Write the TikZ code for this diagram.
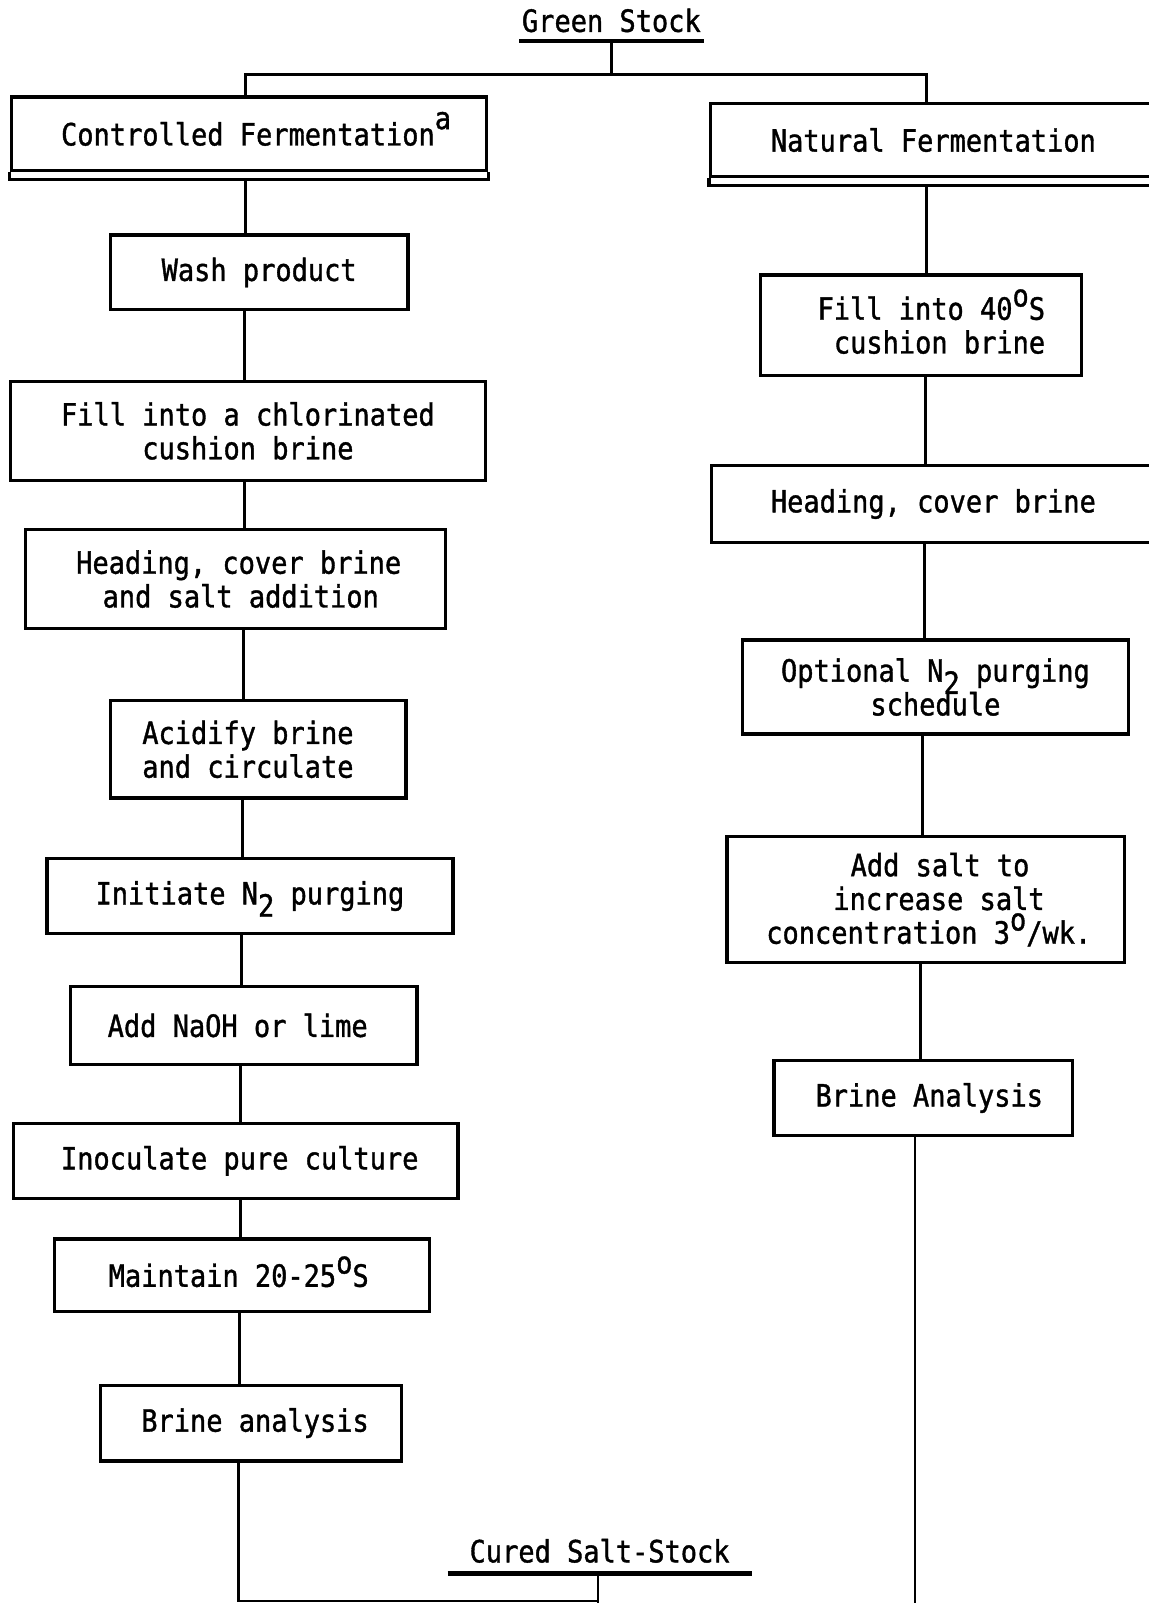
\documentclass[tikz,border=0pt]{standalone}
\usepackage{fontspec}
\newfontfamily\twfont[FakeStretch=0.88,FakeBold=1.2]{DejaVu Sans Mono}
\newcommand\subtwo{\smash{\raisebox{-12pt}{2}}}
\newcommand\degr{\smash{\raisebox{13pt}{o}}}
\newcommand\supa{\smash{\raisebox{16pt}{a}}}
\begin{document}
\begin{tikzpicture}[x=1pt,y=-1pt,
  box/.style={draw, line width=3.2pt, inner sep=0pt, align=center, font=\twfont\fontsize{30}{33}\selectfont},
  lbl/.style={inner sep=0pt, font=\twfont\fontsize{30}{33}\selectfont},
  conn/.style={line width=2.8pt},
  uline/.style={line width=4.2pt},
]
\fill[white] (0,0) rectangle (1123,1568);
\useasboundingbox (0,0) rectangle (1123,1568);

% top
\node[lbl, minimum width=180pt, minimum height=40pt] (gs) at (598,20) {Green Stock};
\draw[uline] (gs.south west) -- (gs.south east);
\coordinate (jc) at (598,73);
\coordinate (jl) at (240,73);
\coordinate (jr) at (906,73);

\node[box, minimum width=465pt, minimum height=72pt] (cf) at (243.5,131) {\hspace*{14pt}Controlled Fermentation\supa};
\draw[line width=3.2pt] (cf.south west) -- ([yshift=-7pt]cf.south west) -- ([yshift=-7pt]cf.south east) -- (cf.south east);
\node[box, minimum width=436pt, minimum height=72pt] (nf) at (913,137) {Natural Fermentation};
\draw[line width=3.2pt] (nf.south west) -- ([yshift=-7pt]nf.south west) -- ([yshift=-7pt]nf.south east) -- (nf.south east);

\draw[conn] (gs.south) -- (jc);
\draw[conn] (cf.north -| jl) -- (jl) -- (jr) -- (nf.north -| jr);

% left column
\node[box, minimum width=291pt, minimum height=73pt] (wash) at (253.5,266.5) {Wash product};
\node[box, minimum width=465pt, minimum height=97pt] (fillc) at (242.5,421.5) {Fill into a chlorinated\\cushion brine};
\node[box, minimum width=411pt, minimum height=97pt] (headl) at (230.5,566.5) {\hspace*{6pt}Heading, cover brine\\\hspace*{10pt}and salt addition};
\node[box, minimum width=289pt, minimum height=95pt, align=left] (acid) at (252.5,733) {Acidify brine\hspace*{20pt}\\and circulate\hspace*{20pt}};
\node[box, minimum width=397pt, minimum height=73pt] (init) at (244.5,876.5) {Initiate N\subtwo{} purging};
\node[box, minimum width=339pt, minimum height=76pt] (naoh) at (238.5,1003) {Add NaOH or lime\hspace*{12pt}};
\node[box, minimum width=435pt, minimum height=73pt] (inoc) at (230.5,1135.5) {\hspace*{8pt}Inoculate pure culture};
\node[box, minimum width=367pt, minimum height=71pt] (maint) at (236.5,1247.5) {Maintain 20-25\degr S\hspace*{6pt}};
\node[box, minimum width=295pt, minimum height=74pt] (brinel) at (245.5,1392) {\hspace*{8pt}Brine analysis};

\draw[conn] ([yshift=-7pt]cf.south -| 240,0) -- (wash.north -| 240,0);
\draw[conn] (wash.south -| 239,0) -- (fillc.north -| 239,0);
\draw[conn] (fillc.south -| 239,0) -- (headl.north -| 239,0);
\draw[conn] (headl.south -| 238,0) -- (acid.north -| 238,0);
\draw[conn] (acid.south -| 237,0) -- (init.north -| 237,0);
\draw[conn] (init.south -| 236,0) -- (naoh.north -| 236,0);
\draw[conn] (naoh.south -| 235,0) -- (inoc.north -| 235,0);
\draw[conn] (inoc.south -| 235,0) -- (maint.north -| 235,0);
\draw[conn] (maint.south -| 234,0) -- (brinel.north -| 234,0);

% right column
\node[box, minimum width=314pt, minimum height=98pt] (fill40) at (901,318) {\hspace*{20pt}Fill into 40\degr S\\\hspace*{36pt}cushion brine};
\node[box, minimum width=434pt, minimum height=75pt] (headr) at (913,493) {Heading, cover brine};
\node[box, minimum width=378pt, minimum height=92pt] (opt) at (915,672) {Optional N\subtwo{} purging\\schedule};
\node[box, minimum width=389pt, minimum height=123pt] (salt) at (905.5,880) {\hspace*{28pt}Add salt to\\\hspace*{26pt}increase salt\\\hspace*{6pt}concentration 3\degr/wk.};
\node[box, minimum width=292pt, minimum height=74pt] (briner) at (903,1074) {\hspace*{12pt}Brine Analysis};

\draw[conn] ([yshift=-7pt]nf.south -| 906,0) -- (fill40.north -| 906,0);
\draw[conn] (fill40.south -| 905,0) -- (headr.north -| 905,0);
\draw[conn] (headr.south -| 904,0) -- (opt.north -| 904,0);
\draw[conn] (opt.south -| 902,0) -- (salt.north -| 902,0);
\draw[conn] (salt.south -| 900,0) -- (briner.north -| 900,0);

% bottom
\node[lbl, minimum width=297pt, minimum height=44pt] (cs) at (586.5,1517) {Cured Salt-Stock};
\draw[uline] (cs.south west) -- (cs.south east);
\coordinate (jb) at (585,1566);
\coordinate (bl) at (233,1566);
\coordinate (rend) at (895,1575);
\draw[conn] (brinel.south -| bl) -- (bl) -- (jb);
\draw[conn] (cs.south -| jb) -- ([yshift=-10pt]jb);
\draw[conn] (briner.south -| rend) -- (rend);
\end{tikzpicture}
\end{document}
